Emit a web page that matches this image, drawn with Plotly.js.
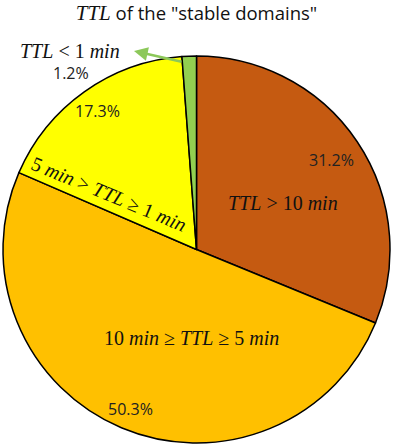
<!DOCTYPE html>
<html>
<head>
<meta charset="utf-8">
<script src="https://cdn.plot.ly/plotly-3.0.1.min.js"></script>
<style>
  html, body { margin: 0; padding: 0; background: #fff; }
  #chart { width: 393px; height: 446px; }
</style>
</head>
<body>
<div id="chart"></div>
<script>
// TTL 분포 파이 차트
const labels = ['TTL > 10 min', '10 min ≥ TTL ≥ 5 min', '5 min > TTL ≥ 1 min', 'TTL < 1 min'];
const shares = [31.2, 50.3, 17.3, 1.2];
const colors = ['#C55A11', '#FFC000', '#FFFF00', '#92D050'];

// 수식 스타일 라벨 (Cambria Math 느낌)
const mathLabels = [
  '<i>TTL</i> > 10 <i>min</i>',
  '10 <i>min</i> ≥ <i>TTL</i> ≥ 5 <i>min</i>',
  '5 <i>min</i> > <i>TTL</i> ≥ 1 <i>min</i>',
  '<i>TTL</i> < 1 <i>min</i>',
];
// 라벨/퍼센트 위치 (paper 좌표, 픽셀에서 환산)
const W = 393, H = 446;
const px = (x) => x / W;
const py = (y) => 1 - y / H;
const labelPos = [[283, 203, 0], [191, 338, 0], [109, 194, 22.5], [70, 51, 0]];
const pctPos = [[331, 160], [130, 409], [97, 111], [71, 73]];

const MATH_FONT = { family: 'Liberation Serif, DejaVu Serif, serif', size: 20, color: '#111' };
const PCT_FONT = { family: 'Open Sans, Liberation Sans, sans-serif', size: 16, color: '#222' };

const annotations = [];
labels.forEach((l, i) => {
  annotations.push({
    xref: 'paper', yref: 'paper', xanchor: 'center', yanchor: 'middle',
    x: px(labelPos[i][0]), y: py(labelPos[i][1]),
    text: mathLabels[i], showarrow: false,
    textangle: labelPos[i][2], font: MATH_FONT,
  });
  annotations.push({
    xref: 'paper', yref: 'paper', xanchor: 'center', yanchor: 'middle',
    x: px(pctPos[i][0]), y: py(pctPos[i][1]),
    text: shares[i].toFixed(1) + '%', showarrow: false, font: PCT_FONT,
  });
});
// 작은 조각을 가리키는 녹색 화살표
annotations.push({
  xref: 'paper', yref: 'paper', axref: 'paper', ayref: 'paper',
  x: px(134), y: py(51), ax: px(183), ay: py(62),
  text: '', showarrow: true, arrowhead: 2, arrowsize: 1.1, arrowwidth: 2.5,
  arrowcolor: '#8CC85A',
});

const traces = [{
  type: 'pie',
  labels: labels,
  values: shares,
  sort: false,
  direction: 'clockwise',
  rotation: 0,
  marker: { colors: colors, line: { color: '#000', width: 1.5 } },
  textinfo: 'none',
  hoverinfo: 'label+percent',
  domain: { x: [px(2), px(391)], y: [py(443), py(56)] },
}];

const layout = {
  width: W, height: H,
  margin: { l: 0, r: 0, t: 0, b: 0 },
  paper_bgcolor: '#fff',
  showlegend: false,
  title: {
    text: '<i><span style="font-family:Liberation Serif, serif;font-size:21px">TTL</span></i> of the "stable domains"',
    font: { family: 'Open Sans, Liberation Sans, sans-serif', size: 18.5, color: '#111' },
    x: 0.5, xanchor: 'center', y: py(14), yanchor: 'middle',
  },
  annotations: annotations,
};

Plotly.newPlot('chart', traces, layout, { displayModeBar: false, staticPlot: true });
</script>
</body>
</html>
